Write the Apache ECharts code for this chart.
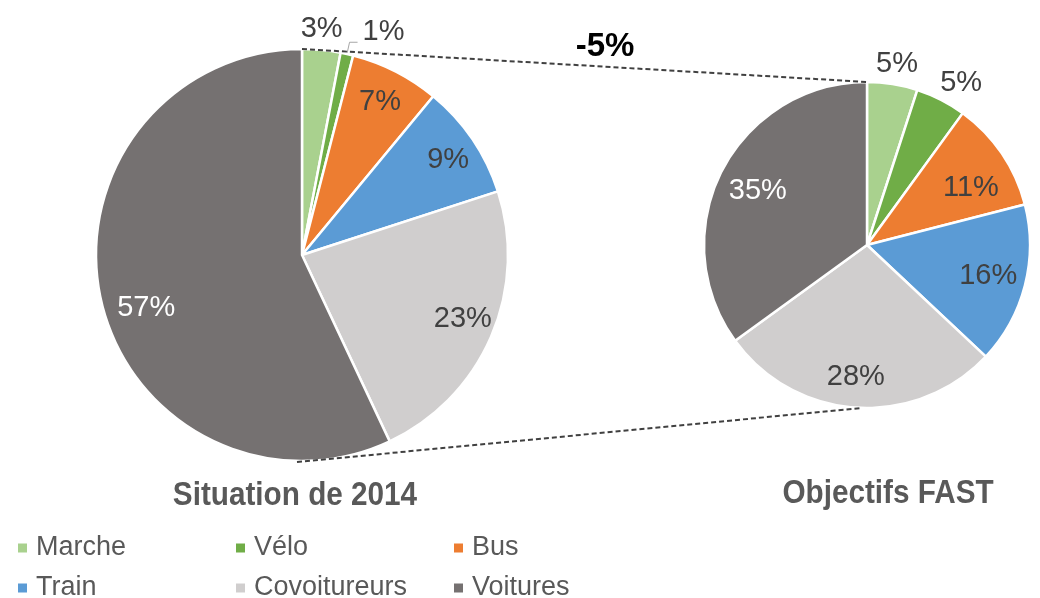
<!DOCTYPE html>
<html lang="fr" style="height: 100%">
<head>
  <meta charset="utf-8">
</head>
<body style="height: 100%; margin: 0; background: #ffffff">
  <div id="container" style="width: 1040px; height: 598px"></div>

  <script type="text/javascript" src="https://cdn.jsdelivr.net/npm/echarts@6.0.0/dist/echarts.min.js"></script>
  <script type="text/javascript">
    // data
    var CATEGORIES = ['Marche', 'Vélo', 'Bus', 'Train', 'Covoitureurs', 'Voitures'];
    var SHARE_2014 = [3, 1, 7, 9, 23, 57];
    var SHARE_FAST = [5, 5, 11, 16, 28, 35];
    var TITLES = ['Situation de 2014', 'Objectifs FAST'];
    var DELTA_TEXT = '-5%';

    // styles / layout
    var COLORS = ['#A9D18E', '#70AD47', '#ED7D31', '#5B9BD5', '#D0CECE', '#757171'];
    var FONT = 'Liberation Sans, Arial, sans-serif';
    var LEFT = { cx: 302, cy: 255, r: 206 };
    var RIGHT = { cx: 867, cy: 245, r: 163 };

    // small label nudges (excel "best fit" placement is not exactly radial)
    var NUDGE_LEFT = { 'Marche': [-2, 3], 'Train': [4, 2], 'Covoitureurs': [3, -4], 'Voitures': [12, 15] };
    var NUDGE_RIGHT = { 'Marche': [0, 9], 'Vélo': [7, 9], 'Bus': [-3, 16], 'Train': [-4, -1], 'Covoitureurs': [-3, 3], 'Voitures': [6, 5] };

    function labelColor(name) {
      return name === 'Voitures' ? '#ffffff' : '#404040';
    }

    // the real pie, labels off except for the small slice with a leader line
    function mainSeries(values, geo, leaderNames) {
      return {
        type: 'pie',
        center: [geo.cx, geo.cy],
        radius: geo.r,
        startAngle: 90,
        avoidLabelOverlap: false,
        animation: false,
        emphasis: { scale: false },
        itemStyle: { borderColor: '#ffffff', borderWidth: 2.5 },
        labelLine: {
          length: 12,
          length2: 8,
          lineStyle: { color: '#a6a6a6', width: 1 }
        },
        data: CATEGORIES.map(function (n, i) {
          var leader = leaderNames.indexOf(n) >= 0;
          return {
            name: n,
            value: values[i],
            itemStyle: { color: COLORS[i] },
            label: leader ? {
              show: true,
              position: 'outside',
              formatter: '{c}%\n ',
              fontSize: 29,
              lineHeight: 20,
              fontFamily: FONT,
              color: '#404040'
            } : { show: false },
            labelLine: { show: leader }
          };
        })
      };
    }

    // transparent ring only used to place the percentage labels
    function labelRing(values, geo, f0, f1, names, nudge) {
      return {
        type: 'pie',
        silent: true,
        center: [geo.cx, geo.cy],
        radius: [geo.r * f0, geo.r * f1],
        startAngle: 90,
        avoidLabelOverlap: false,
        animation: false,
        itemStyle: { color: 'rgba(0,0,0,0)', borderWidth: 0 },
        labelLine: { show: false },
        labelLayout: function (params) {
          var d = nudge[CATEGORIES[params.dataIndex]];
          return d ? { dx: d[0], dy: d[1] } : {};
        },
        data: CATEGORIES.map(function (n, i) {
          return {
            name: n,
            value: values[i],
            label: {
              show: names.indexOf(n) >= 0,
              position: 'inside',
              formatter: '{c}%',
              fontSize: 29,
              fontFamily: FONT,
              color: labelColor(n)
            }
          };
        })
      };
    }

    var legendCols = [18, 236, 454];
    var legendRows = [534, 574];
    var legends = CATEGORIES.map(function (n, i) {
      return {
        data: [n],
        left: legendCols[i % 3],
        top: legendRows[Math.floor(i / 3)],
        padding: 0,
        icon: 'rect',
        itemWidth: 9,
        itemHeight: 9,
        selectedMode: false,
        itemStyle: { borderWidth: 0 },
        textStyle: {
          fontSize: 27,
          fontFamily: FONT,
          color: '#595959',
          lineHeight: 28,
          padding: [0, 0, 0, 4]
        }
      };
    });

    var dash = { stroke: '#404040', lineWidth: 2, lineDash: [5, 3] };

    var option = {
      backgroundColor: '#ffffff',
      legend: legends,
      graphic: [
        {
          type: 'line', z: 10,
          shape: { x1: LEFT.cx, y1: LEFT.cy - LEFT.r, x2: RIGHT.cx, y2: RIGHT.cy - RIGHT.r },
          style: dash
        },
        {
          type: 'line', z: 10,
          shape: { x1: LEFT.cx - 5, y1: LEFT.cy + LEFT.r + 1, x2: RIGHT.cx - 5, y2: RIGHT.cy + RIGHT.r },
          style: dash
        },
        {
          type: 'text', x: 605, y: 47,
          style: {
            text: DELTA_TEXT, fill: '#000000', fontSize: 33, fontWeight: 'bold',
            fontFamily: FONT, align: 'center', verticalAlign: 'middle'
          }
        },
        {
          type: 'text', x: 295, y: 496, scaleX: 0.9,
          style: {
            text: TITLES[0], fill: '#595959', fontSize: 33, fontWeight: 'bold',
            fontFamily: FONT, align: 'center', verticalAlign: 'middle'
          }
        },
        {
          type: 'text', x: 888, y: 494, scaleX: 0.9,
          style: {
            text: TITLES[1], fill: '#595959', fontSize: 33, fontWeight: 'bold',
            fontFamily: FONT, align: 'center', verticalAlign: 'middle'
          }
        }
      ],
      series: [
        mainSeries(SHARE_2014, LEFT, ['Vélo']),
        mainSeries(SHARE_FAST, RIGHT, []),
        labelRing(SHARE_2014, LEFT, 0.64, 1.0, ['Bus', 'Train', 'Covoitureurs', 'Voitures'], NUDGE_LEFT),
        labelRing(SHARE_2014, LEFT, 1.0, 1.2, ['Marche'], NUDGE_LEFT),
        labelRing(SHARE_FAST, RIGHT, 0.55, 1.0, ['Bus', 'Train', 'Covoitureurs', 'Voitures'], NUDGE_RIGHT),
        labelRing(SHARE_FAST, RIGHT, 1.0, 1.32, ['Marche', 'Vélo'], NUDGE_RIGHT)
      ]
    };

    var myChart = echarts.init(document.getElementById('container'), null, { renderer: 'canvas' });
    myChart.setOption(option);
    window.addEventListener('resize', myChart.resize);
  </script>
</body>
</html>
